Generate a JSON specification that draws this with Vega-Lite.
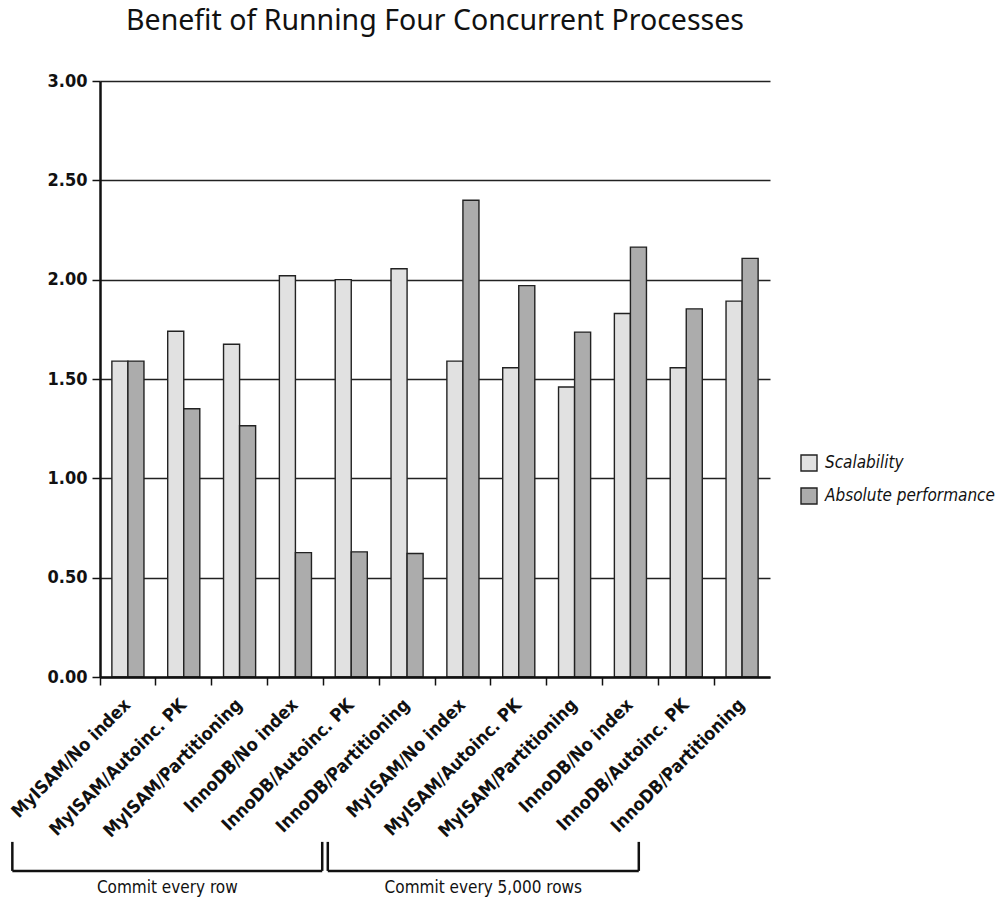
{
  "$schema": "https://vega.github.io/schema/vega-lite/v6.json",
  "autosize": {"type": "none"},
  "padding": {"left": 100, "top": 81, "right": 230, "bottom": 229},
  "width": 670,
  "height": 596,
  "background": "white",
  "config": {
    "view": {"stroke": null},
    "font": "DejaVu Sans Condensed, Liberation Sans Narrow, DejaVu Sans"
  },
  "title": {
    "text": "Benefit of Running Four Concurrent Processes",
    "font": "Noto Sans",
    "fontSize": 28.5,
    "fontWeight": "normal",
    "color": "#111",
    "anchor": "middle",
    "frame": "group",
    "baseline": "alphabetic",
    "offset": 14
  },
  "datasets": {
    "bars": [
      {"test": "row|MyISAM/No index", "metric": "Scalability", "value": 1.59},
      {"test": "row|MyISAM/No index", "metric": "Absolute performance", "value": 1.59},
      {"test": "row|MyISAM/Autoinc. PK", "metric": "Scalability", "value": 1.74},
      {"test": "row|MyISAM/Autoinc. PK", "metric": "Absolute performance", "value": 1.35},
      {"test": "row|MyISAM/Partitioning", "metric": "Scalability", "value": 1.675},
      {"test": "row|MyISAM/Partitioning", "metric": "Absolute performance", "value": 1.265},
      {"test": "row|InnoDB/No index", "metric": "Scalability", "value": 2.02},
      {"test": "row|InnoDB/No index", "metric": "Absolute performance", "value": 0.626},
      {"test": "row|InnoDB/Autoinc. PK", "metric": "Scalability", "value": 2.0},
      {"test": "row|InnoDB/Autoinc. PK", "metric": "Absolute performance", "value": 0.63},
      {"test": "row|InnoDB/Partitioning", "metric": "Scalability", "value": 2.055},
      {"test": "row|InnoDB/Partitioning", "metric": "Absolute performance", "value": 0.622},
      {"test": "5000|MyISAM/No index", "metric": "Scalability", "value": 1.59},
      {"test": "5000|MyISAM/No index", "metric": "Absolute performance", "value": 2.40},
      {"test": "5000|MyISAM/Autoinc. PK", "metric": "Scalability", "value": 1.557},
      {"test": "5000|MyISAM/Autoinc. PK", "metric": "Absolute performance", "value": 1.97},
      {"test": "5000|MyISAM/Partitioning", "metric": "Scalability", "value": 1.46},
      {"test": "5000|MyISAM/Partitioning", "metric": "Absolute performance", "value": 1.736},
      {"test": "5000|InnoDB/No index", "metric": "Scalability", "value": 1.83},
      {"test": "5000|InnoDB/No index", "metric": "Absolute performance", "value": 2.164},
      {"test": "5000|InnoDB/Autoinc. PK", "metric": "Scalability", "value": 1.557},
      {"test": "5000|InnoDB/Autoinc. PK", "metric": "Absolute performance", "value": 1.853},
      {"test": "5000|InnoDB/Partitioning", "metric": "Scalability", "value": 1.892},
      {"test": "5000|InnoDB/Partitioning", "metric": "Absolute performance", "value": 2.107}
    ],
    "groups": [
      {"label": "Commit every row", "start": -1.57, "end": 3.98, "mid": 1.205},
      {"label": "Commit every 5,000 rows", "start": 4.08, "end": 9.65, "mid": 6.865}
    ]
  },
  "layer": [
    {
      "data": {"name": "bars"},
      "mark": {"type": "bar", "stroke": "#222", "strokeWidth": 1.4},
      "encoding": {
        "x": {
          "field": "test",
          "type": "nominal",
          "sort": null,
          "scale": {"paddingInner": 0, "paddingOuter": 0},
          "axis": {
            "title": null,
            "labelExpr": "split(datum.label, '|')[1]",
            "labelAngle": -45,
            "labelAlign": "right",
            "labelBaseline": "middle",
            "labelPadding": 17,
            "labelFontSize": 18,
            "labelFontWeight": "bold",
            "labelColor": "#111",
            "labelOverlap": false,
            "labelLimit": 400,
            "bandPosition": 0,
            "tickSize": 8,
            "tickColor": "#111",
            "tickWidth": 1.5,
            "domainColor": "#111",
            "domainWidth": 2.5,
            "grid": false,
            "zindex": 1
          }
        },
        "xOffset": {
          "field": "metric",
          "type": "nominal",
          "sort": ["Scalability", "Absolute performance"],
          "scale": {"paddingInner": 0, "paddingOuter": 0.74}
        },
        "y": {
          "field": "value",
          "type": "quantitative",
          "scale": {"domain": [0, 3], "nice": false, "zero": true},
          "axis": {
            "title": null,
            "values": [0, 0.5, 1, 1.5, 2, 2.5, 3],
            "format": ".2f",
            "labelFontSize": 18,
            "labelFontWeight": "bold",
            "labelColor": "#111",
            "labelPadding": 5,
            "tickSize": 8,
            "tickColor": "#111",
            "tickWidth": 1.5,
            "domainColor": "#111",
            "domainWidth": 2.5,
            "grid": true,
            "gridColor": "#222",
            "gridWidth": 1.3
          }
        },
        "color": {
          "field": "metric",
          "type": "nominal",
          "sort": ["Scalability", "Absolute performance"],
          "scale": {"domain": ["Scalability", "Absolute performance"], "range": ["#e1e1e1", "#acacac"]},
          "legend": {
            "title": null,
            "orient": "none",
            "legendX": 700,
            "legendY": 373,
            "padding": 0,
            "symbolType": "square",
            "symbolSize": 256,
            "symbolStrokeColor": "#222",
            "symbolStrokeWidth": 1.4,
            "labelFontSize": 17,
            "labelFontStyle": "italic",
            "labelColor": "#111",
            "labelOffset": 7,
            "rowPadding": 11,
            "labelLimit": 300
          }
        }
      }
    },
    {
      "data": {"name": "groups"},
      "mark": {"type": "rule", "color": "#111", "strokeWidth": 2.5},
      "encoding": {
        "x": {"field": "start", "type": "quantitative", "scale": {"domain": [0, 12], "nice": false, "zero": false}, "axis": null},
        "x2": {"field": "end"},
        "y": {"datum": -0.976}
      }
    },
    {
      "data": {"name": "groups"},
      "mark": {"type": "rule", "color": "#111", "strokeWidth": 2.5},
      "encoding": {
        "x": {"field": "start", "type": "quantitative", "scale": {"domain": [0, 12], "nice": false, "zero": false}, "axis": null},
        "y": {"datum": -0.976},
        "y2": {"datum": -0.83}
      }
    },
    {
      "data": {"name": "groups"},
      "mark": {"type": "rule", "color": "#111", "strokeWidth": 2.5},
      "encoding": {
        "x": {"field": "end", "type": "quantitative", "scale": {"domain": [0, 12], "nice": false, "zero": false}, "axis": null},
        "y": {"datum": -0.976},
        "y2": {"datum": -0.83}
      }
    },
    {
      "data": {"name": "groups"},
      "mark": {"type": "text", "fontSize": 17, "color": "#111", "baseline": "middle", "align": "center"},
      "encoding": {
        "x": {"field": "mid", "type": "quantitative", "scale": {"domain": [0, 12], "nice": false, "zero": false}, "axis": null},
        "y": {"datum": -1.06},
        "text": {"field": "label"}
      }
    }
  ],
  "resolve": {"scale": {"x": "independent"}}
}
